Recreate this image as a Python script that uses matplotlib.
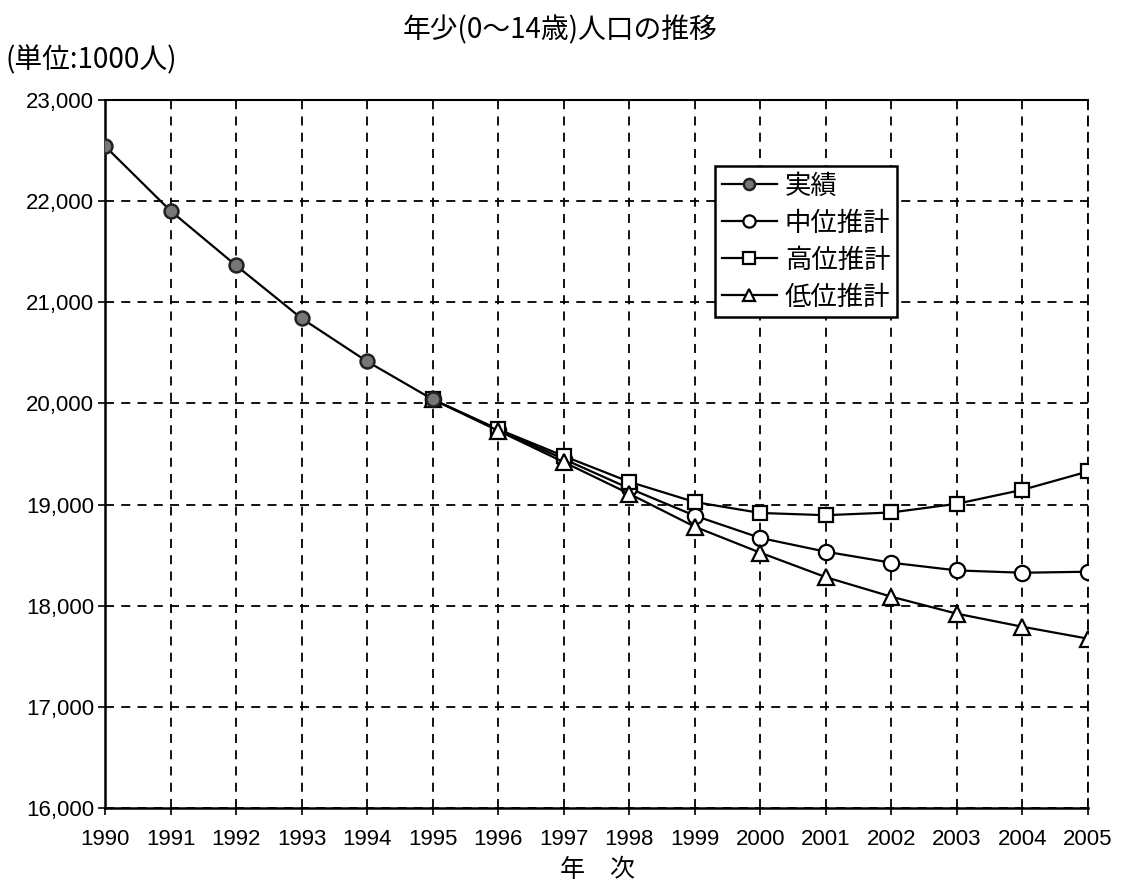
import matplotlib
matplotlib.use("Agg")
import matplotlib.pyplot as plt
from matplotlib.ticker import FuncFormatter

plt.rcParams['font.family'] = ['Noto Sans CJK JP', 'DejaVu Sans']

years_actual = [1990, 1991, 1992, 1993, 1994, 1995]
actual = [22544, 21904, 21364, 20841, 20415, 20040]

years_proj = list(range(1995, 2006))
medium = [20040, 19740, 19450, 19160, 18890, 18670, 18534, 18425, 18349, 18326, 18336]
high = [20040, 19745, 19480, 19225, 19025, 18917, 18895, 18922, 19008, 19146, 19327]
low = [20040, 19730, 19420, 19107, 18781, 18524, 18282, 18089, 17921, 17792, 17674]

labels = ['実績', '中位推計', '高位推計', '低位推計']
title = '年少(0～14歳)人口の推移'
unit = '(単位:1000人)'
xlabel = '年　次'

num_family = 'Liberation Sans'
num_size = 16

fig = plt.figure(figsize=(11.21, 8.89), dpi=100)
ax = fig.add_axes([105/1121, 1 - 808/889, (1088-105)/1121, (808-100)/889])

lw = 1.6
ms = 10
ax.plot(years_actual, actual, '-', color='black', lw=lw, marker='o', ms=ms,
        mfc='#777777', mec='#222222', mew=1.8, label=labels[0], zorder=5)
ax.plot(years_proj, medium, '-', color='black', lw=lw, marker='o', ms=ms+1,
        mfc='white', mec='black', mew=1.6, label=labels[1], zorder=4)
ax.plot(years_proj, high, '-', color='black', lw=lw, marker='s', ms=ms,
        mfc='white', mec='black', mew=1.6, label=labels[2], zorder=4)
ax.plot(years_proj, low, '-', color='black', lw=lw, marker='^', ms=ms+1,
        mfc='white', mec='black', mew=1.6, label=labels[3], zorder=4)

ax.set_xlim(1990, 2005)
ax.set_ylim(16000, 23000)
ax.set_xticks(range(1990, 2006))
ax.set_yticks(range(16000, 23001, 1000))
ax.yaxis.set_major_formatter(FuncFormatter(lambda v, p: f'{int(v):,}'))
ax.grid(True, color='black', linestyle=(0, (5, 4)), linewidth=1.3)
ax.tick_params(axis='both', length=5, width=1.2, direction='out')
ax.tick_params(axis='x', pad=10)
ax.tick_params(axis='y', pad=3)
for lab in ax.get_xticklabels() + ax.get_yticklabels():
    lab.set_fontfamily(num_family)
    lab.set_fontsize(num_size)
for s in ['left', 'bottom']:
    ax.spines[s].set_linewidth(1.8)
ax.spines['top'].set_linewidth(1.5)
ax.spines['right'].set_linestyle((0, (5, 4)))
ax.spines['right'].set_linewidth(1.3)

fig.text(560/1121, 1 - 30/889, title, ha='center', va='center', fontsize=20)
fig.text(5/1121, 1 - 60/889, unit, ha='left', va='center', fontsize=20)
fig.text(597/1121, 1 - 870/889, xlabel, ha='center', va='center', fontsize=18)

leg = ax.legend(loc='upper left', bbox_to_anchor=((715-105)/983, (808-166)/708),
                fontsize=19, frameon=True, fancybox=False, edgecolor='black',
                framealpha=1, borderpad=0.25, labelspacing=0.38, handlelength=2.1,
                handletextpad=0.3, borderaxespad=0, markerscale=0.8)
leg.get_frame().set_linewidth(1.8)

fig.savefig('out.png', dpi=100)
